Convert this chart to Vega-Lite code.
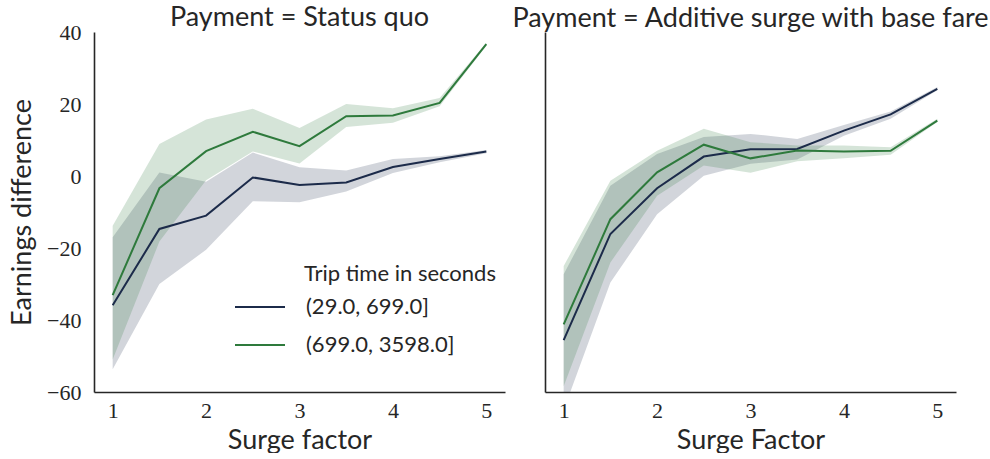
{
  "$schema": "https://vega.github.io/schema/vega-lite/v6.json",
  "background": "white",
  "padding": {"left": 8, "top": 4, "right": 0, "bottom": 0},
  "datasets": {
    "d": [
      {"payment": "Status quo", "trip": "(29.0, 699.0]", "surge": 1.0, "mean": -35.9, "lo": -53.7, "hi": -17.0},
      {"payment": "Status quo", "trip": "(29.0, 699.0]", "surge": 1.5, "mean": -14.7, "lo": -30.0, "hi": 1.0},
      {"payment": "Status quo", "trip": "(29.0, 699.0]", "surge": 2.0, "mean": -11.0, "lo": -20.5, "hi": -1.6},
      {"payment": "Status quo", "trip": "(29.0, 699.0]", "surge": 2.5, "mean": -0.4, "lo": -7.0, "hi": 6.5},
      {"payment": "Status quo", "trip": "(29.0, 699.0]", "surge": 3.0, "mean": -2.5, "lo": -7.3, "hi": 2.4},
      {"payment": "Status quo", "trip": "(29.0, 699.0]", "surge": 3.5, "mean": -1.8, "lo": -4.3, "hi": 1.5},
      {"payment": "Status quo", "trip": "(29.0, 699.0]", "surge": 4.0, "mean": 2.5, "lo": 0.8, "hi": 4.7},
      {"payment": "Status quo", "trip": "(29.0, 699.0]", "surge": 4.5, "mean": 4.7, "lo": 3.8, "hi": 5.5},
      {"payment": "Status quo", "trip": "(29.0, 699.0]", "surge": 5.0, "mean": 6.8, "lo": 6.3, "hi": 7.2},
      {"payment": "Status quo", "trip": "(699.0, 3598.0]", "surge": 1.0, "mean": -33.1, "lo": -51.0, "hi": -13.8},
      {"payment": "Status quo", "trip": "(699.0, 3598.0]", "surge": 1.5, "mean": -3.4, "lo": -18.2, "hi": 8.9},
      {"payment": "Status quo", "trip": "(699.0, 3598.0]", "surge": 2.0, "mean": 6.9, "lo": -1.2, "hi": 15.7},
      {"payment": "Status quo", "trip": "(699.0, 3598.0]", "surge": 2.5, "mean": 12.3, "lo": 6.8, "hi": 18.7},
      {"payment": "Status quo", "trip": "(699.0, 3598.0]", "surge": 3.0, "mean": 8.3, "lo": 3.5, "hi": 13.3},
      {"payment": "Status quo", "trip": "(699.0, 3598.0]", "surge": 3.5, "mean": 16.6, "lo": 13.6, "hi": 20.0},
      {"payment": "Status quo", "trip": "(699.0, 3598.0]", "surge": 4.0, "mean": 16.8, "lo": 14.8, "hi": 18.8},
      {"payment": "Status quo", "trip": "(699.0, 3598.0]", "surge": 4.5, "mean": 20.3, "lo": 19.4, "hi": 21.7},
      {"payment": "Status quo", "trip": "(699.0, 3598.0]", "surge": 5.0, "mean": 36.6, "lo": 36.2, "hi": 37.0},
      {"payment": "Additive surge with base fare", "trip": "(29.0, 699.0]", "surge": 1.0, "mean": -45.6, "lo": -65.0, "hi": -27.3},
      {"payment": "Additive surge with base fare", "trip": "(29.0, 699.0]", "surge": 1.5, "mean": -16.1, "lo": -29.6, "hi": -2.7},
      {"payment": "Additive surge with base fare", "trip": "(29.0, 699.0]", "surge": 2.0, "mean": -3.4, "lo": -10.6, "hi": 6.1},
      {"payment": "Additive surge with base fare", "trip": "(29.0, 699.0]", "surge": 2.5, "mean": 5.4, "lo": 0.1, "hi": 10.8},
      {"payment": "Additive surge with base fare", "trip": "(29.0, 699.0]", "surge": 3.0, "mean": 7.4, "lo": 3.4, "hi": 11.7},
      {"payment": "Additive surge with base fare", "trip": "(29.0, 699.0]", "surge": 3.5, "mean": 7.5, "lo": 4.6, "hi": 10.3},
      {"payment": "Additive surge with base fare", "trip": "(29.0, 699.0]", "surge": 4.0, "mean": 12.6, "lo": 11.2, "hi": 14.2},
      {"payment": "Additive surge with base fare", "trip": "(29.0, 699.0]", "surge": 4.5, "mean": 17.1, "lo": 15.9, "hi": 17.9},
      {"payment": "Additive surge with base fare", "trip": "(29.0, 699.0]", "surge": 5.0, "mean": 24.2, "lo": 23.8, "hi": 24.7},
      {"payment": "Additive surge with base fare", "trip": "(699.0, 3598.0]", "surge": 1.0, "mean": -41.2, "lo": -58.4, "hi": -25.0},
      {"payment": "Additive surge with base fare", "trip": "(699.0, 3598.0]", "surge": 1.5, "mean": -12.0, "lo": -24.0, "hi": -1.3},
      {"payment": "Additive surge with base fare", "trip": "(699.0, 3598.0]", "surge": 2.0, "mean": 1.0, "lo": -5.5, "hi": 7.0},
      {"payment": "Additive surge with base fare", "trip": "(699.0, 3598.0]", "surge": 2.5, "mean": 8.7, "lo": 2.9, "hi": 13.1},
      {"payment": "Additive surge with base fare", "trip": "(699.0, 3598.0]", "surge": 3.0, "mean": 4.9, "lo": 0.9, "hi": 9.4},
      {"payment": "Additive surge with base fare", "trip": "(699.0, 3598.0]", "surge": 3.5, "mean": 7.1, "lo": 4.1, "hi": 8.5},
      {"payment": "Additive surge with base fare", "trip": "(699.0, 3598.0]", "surge": 4.0, "mean": 6.8, "lo": 4.9, "hi": 8.5},
      {"payment": "Additive surge with base fare", "trip": "(699.0, 3598.0]", "surge": 4.5, "mean": 7.0, "lo": 5.9, "hi": 8.0},
      {"payment": "Additive surge with base fare", "trip": "(699.0, 3598.0]", "surge": 5.0, "mean": 15.4, "lo": 15.0, "hi": 15.9}
    ]
  },
  "data": {"name": "d"},
  "config": {
    "view": {"stroke": null},
    "font": "Lato",
    "axis": {
      "grid": false,
      "ticks": false,
      "domainColor": "#262626",
      "domainWidth": 1.6,
      "labelFont": "Liberation Serif",
      "labelFontSize": 22,
      "labelColor": "#262626",
      "titleFont": "Lato",
      "titleFontSize": 27,
      "titleFontWeight": "normal",
      "titleColor": "#262626"
    },
    "title": {"font": "Lato", "fontSize": 27, "fontWeight": "normal", "color": "#262626", "baseline": "alphabetic"}
  },
  "bounds": "flush",
  "spacing": 40,
  "hconcat": [
    {
      "width": 411,
      "height": 360,
      "title": {"text": "Payment = Status quo", "offset": -11},
      "transform": [{"filter": "datum.payment === 'Status quo'"}],
      "encoding": {
        "x": {"field": "surge", "type": "quantitative", "scale": {"domain": [0.8, 5.2], "nice": false, "zero": false},
              "axis": {"values": [1, 2, 3, 4, 5], "title": "Surge factor", "labelPadding": 8, "titlePadding": 6}}
      },
      "layer": [
        {
          "mark": {"type": "area", "opacity": 0.2, "clip": true},
          "encoding": {
            "y": {"field": "lo", "type": "quantitative", "scale": {"domain": [-60, 40], "nice": false},
                  "axis": {"values": [-60, -40, -20, 0, 20, 40], "title": "Earnings difference", "labelPadding": 13, "titlePadding": 10}},
            "y2": {"field": "hi"},
            "fill": {"field": "trip", "type": "nominal", "scale": {"domain": ["(699.0, 3598.0]", "(29.0, 699.0]"], "range": ["#2e7a3c", "#1c2b4a"]}, "legend": null}
          }
        },
        {
          "mark": {"type": "line", "strokeWidth": 2, "clip": true},
          "encoding": {
            "y": {"field": "mean", "type": "quantitative"},
            "color": {"field": "trip", "type": "nominal", "scale": {"domain": ["(29.0, 699.0]", "(699.0, 3598.0]"], "range": ["#1c2b4a", "#2e7a3c"]},
                      "legend": {"title": "Trip time in seconds", "orient": "none", "legendX": 210, "legendY": 232, "padding": 0,
                                 "titleFont": "Lato", "titleFontSize": 22, "titleFontWeight": "normal", "titleColor": "#262626", "titlePadding": -5, "titleLimit": 400,
                                 "labelFont": "Lato", "labelFontSize": 22, "labelColor": "#262626", "labelLimit": 400,
                                 "symbolType": "stroke", "symbolSize": 2500, "symbolStrokeWidth": 2, "symbolOffset": -70, "labelOffset": 20, "rowPadding": 1}}
          }
        }
      ]
    },
    {
      "width": 411,
      "height": 360,
      "title": {"text": "Payment = Additive surge with base fare", "offset": -1},
      "transform": [{"filter": "datum.payment === 'Additive surge with base fare'"}],
      "encoding": {
        "x": {"field": "surge", "type": "quantitative", "scale": {"domain": [0.8, 5.2], "nice": false, "zero": false},
              "axis": {"values": [1, 2, 3, 4, 5], "title": "Surge Factor", "labelPadding": 8, "titlePadding": 6}}
      },
      "layer": [
        {
          "mark": {"type": "area", "opacity": 0.2, "clip": true},
          "encoding": {
            "y": {"field": "lo", "type": "quantitative", "scale": {"domain": [-60, 40], "nice": false},
                  "axis": {"labels": false, "title": null}},
            "y2": {"field": "hi"},
            "fill": {"field": "trip", "type": "nominal", "scale": {"domain": ["(699.0, 3598.0]", "(29.0, 699.0]"], "range": ["#2e7a3c", "#1c2b4a"]}, "legend": null}
          }
        },
        {
          "mark": {"type": "line", "strokeWidth": 2, "clip": true},
          "encoding": {
            "y": {"field": "mean", "type": "quantitative"},
            "color": {"field": "trip", "type": "nominal", "scale": {"domain": ["(29.0, 699.0]", "(699.0, 3598.0]"], "range": ["#1c2b4a", "#2e7a3c"]}, "legend": null}
          }
        }
      ]
    }
  ]
}
